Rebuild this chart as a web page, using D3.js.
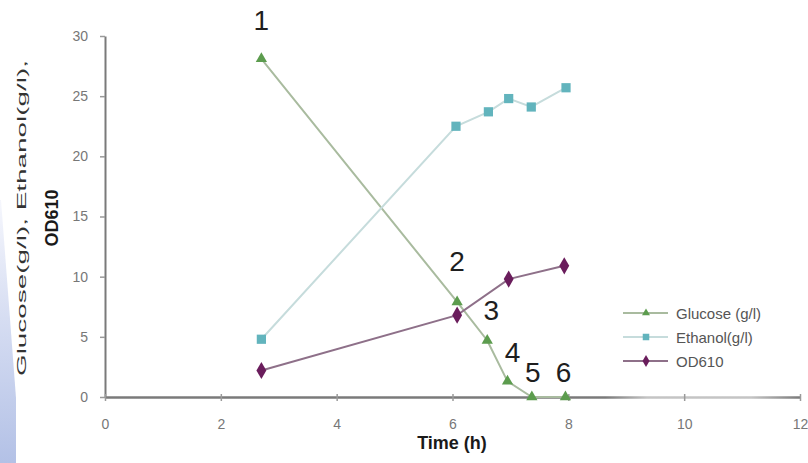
<!DOCTYPE html>
<html>
<head>
<meta charset="utf-8">
<script src="https://cdn.jsdelivr.net/npm/d3@7"></script>
<style>
  body { margin: 0; background: #fff; }
  svg { display: block; font-family: 'Liberation Sans', Arial, sans-serif; }
</style>
</head>
<body>
<div id="chart"></div>
<script>
// data
const glucoseTime = [2.7, 6.08, 6.6, 6.95, 7.37, 7.95]
const glucoseValues = [28.1, 7.9, 4.7, 1.3, 0, 0]
const ethanolTime = [2.7, 6.06, 6.62, 6.97, 7.36, 7.96]
const ethanolValues = [4.8, 22.5, 23.7, 24.8, 24.1, 25.7]
const odTime = [2.7, 6.08, 6.97, 7.93]
const odValues = [2.2, 6.8, 9.8, 10.9]
const sampleLabels = ['1', '2', '3', '4', '5', '6']
const xTicks = [0, 2, 4, 6, 8, 10, 12]
const yTicks = [0, 5, 10, 15, 20, 25, 30]
const seriesNames = ['Glucose (g/l)', 'Ethanol(g/l)', 'OD610']

const width = 808
const height = 463

const svg = d3.select('#chart').append('svg')
  .attr('width', width)
  .attr('height', height)

const defs = svg.append('defs')

// faint slide background piece on the left edge
const bg = defs.append('linearGradient')
  .attr('id', 'bgGrad')
  .attr('x1', 0).attr('y1', 0).attr('x2', 0).attr('y2', 1)
bg.append('stop').attr('offset', '0%').attr('stop-color', '#f6f7fd')
bg.append('stop').attr('offset', '45%').attr('stop-color', '#d6ddf2')
bg.append('stop').attr('offset', '100%').attr('stop-color', '#b3c1e6')
svg.append('path')
  .attr('d', 'M0,200 L1,200 L16,398 L16,463 L0,463 Z')
  .attr('fill', 'url(#bgGrad)')

// x axis line fades a bit past 8 h in the original
const axGrad = defs.append('linearGradient')
  .attr('id', 'axGrad')
  .attr('gradientUnits', 'userSpaceOnUse')
  .attr('x1', 105).attr('x2', 800).attr('y1', 0).attr('y2', 0)
axGrad.append('stop').attr('offset', '0%').attr('stop-color', '#7a7a7a')
axGrad.append('stop').attr('offset', '72%').attr('stop-color', '#7a7a7a')
axGrad.append('stop').attr('offset', '78%').attr('stop-color', '#c4c4c4')
axGrad.append('stop').attr('offset', '93%').attr('stop-color', '#c4c4c4')
axGrad.append('stop').attr('offset', '100%').attr('stop-color', '#7a7a7a')

const x = d3.scaleLinear().domain([0, 12]).range([105, 800])
const y = d3.scaleLinear().domain([0, 30]).range([397, 36])

// y axis
const yAxis = svg.append('g')
  .attr('transform', 'translate(' + x(0) + ',0)')
  .call(d3.axisLeft(y).tickValues(yTicks).tickSize(5).tickPadding(12).tickSizeOuter(0))
yAxis.select('.domain').attr('stroke', '#7a7a7a').attr('stroke-width', 2)
yAxis.selectAll('.tick line').attr('stroke', '#9a9a9a').attr('stroke-width', 1.5)
yAxis.selectAll('.tick text')
  .attr('fill', '#777')
  .attr('font-size', 14)

// x axis
const xAxis = svg.append('g')
  .attr('transform', 'translate(0,' + y(0) + ')')
  .call(d3.axisBottom(x).tickValues(xTicks).tickSize(4).tickPadding(18).tickSizeOuter(0))
xAxis.select('.domain').attr('stroke', 'url(#axGrad)').attr('stroke-width', 2.5)
xAxis.selectAll('.tick line').attr('stroke', '#9a9a9a').attr('stroke-width', 1.5)
  .attr('y1', -3)
xAxis.selectAll('.tick text')
  .attr('fill', '#777')
  .attr('font-size', 14)

// axis titles
svg.append('text')
  .attr('x', 452).attr('y', 449)
  .attr('text-anchor', 'middle')
  .attr('font-size', 18).attr('font-weight', 'bold')
  .attr('fill', '#1a1a1a')
  .text('Time (h)')

svg.append('text')
  .attr('transform', 'translate(26,218) rotate(-90)')
  .attr('text-anchor', 'middle')
  .attr('font-size', 12)
  .attr('fill', '#333')
  .attr('textLength', 316)
  .attr('lengthAdjust', 'spacingAndGlyphs')
  .text('Glucose(g/l), Ethanol(g/l),')

svg.append('text')
  .attr('transform', 'translate(58,218) rotate(-90)')
  .attr('text-anchor', 'middle')
  .attr('font-size', 18).attr('font-weight', 'bold')
  .attr('fill', '#1a1a1a')
  .text('OD610')

// series
const series = [
  { name: seriesNames[0], xs: glucoseTime, ys: glucoseValues, line: '#a9bb9f', mark: '#5c9c4e', shape: d3.symbolTriangle, size: 55 },
  { name: seriesNames[1], xs: ethanolTime, ys: ethanolValues, line: '#c6dcdc', mark: '#62b4bd', shape: d3.symbolSquare, size: 85 },
  { name: seriesNames[2], xs: odTime, ys: odValues, line: '#8e7089', mark: '#6a1d5c', shape: d3.symbolDiamond, size: 85 }
]

const line = d3.line().x(d => x(d[0])).y(d => y(d[1]))

series.forEach(s => {
  const pts = s.xs.map((t, i) => [t, s.ys[i]])
  svg.append('path')
    .datum(pts)
    .attr('d', line)
    .attr('fill', 'none')
    .attr('stroke', s.line)
    .attr('stroke-width', 2)
  svg.append('g')
    .selectAll('path')
    .data(pts)
    .join('path')
    .attr('transform', d => 'translate(' + x(d[0]) + ',' + y(d[1]) + ')')
    .attr('d', d3.symbol().type(s.shape).size(s.size))
    .attr('fill', s.mark)
})

// sample numbers above the glucose points
const labelOffsets = [[0, -38], [0, -40], [4, -30], [5, -29], [1, -25], [-2, -25]]
svg.append('g')
  .selectAll('text')
  .data(sampleLabels)
  .join('text')
  .attr('x', (d, i) => x(glucoseTime[i]) + labelOffsets[i][0])
  .attr('y', (d, i) => y(glucoseValues[i]) + labelOffsets[i][1])
  .attr('text-anchor', 'middle')
  .attr('dominant-baseline', 'central')
  .attr('font-size', 28)
  .attr('fill', '#1e1e1e')
  .text(d => d)

// legend
const legend = svg.append('g').attr('transform', 'translate(623,313)')
series.forEach((s, i) => {
  const row = legend.append('g').attr('transform', 'translate(0,' + i * 24 + ')')
  row.append('line')
    .attr('x1', 0).attr('x2', 45)
    .attr('stroke', s.line).attr('stroke-width', 2)
  row.append('path')
    .attr('transform', 'translate(23,0)')
    .attr('d', d3.symbol().type(s.shape).size(s.size * 0.5))
    .attr('fill', s.mark)
  row.append('text')
    .attr('x', 53)
    .attr('dominant-baseline', 'central')
    .attr('font-size', 15)
    .attr('fill', '#555')
    .text(s.name)
})
</script>
</body>
</html>
